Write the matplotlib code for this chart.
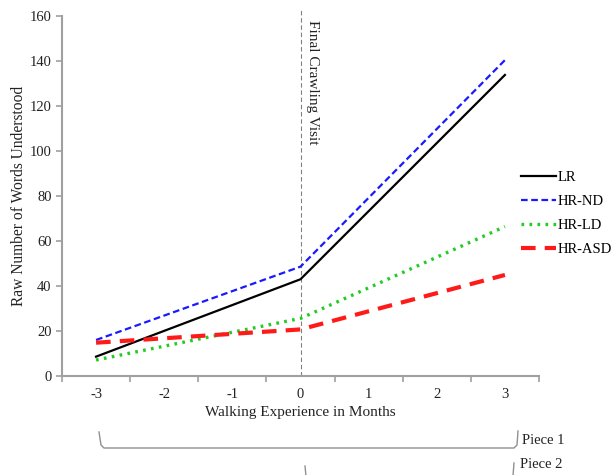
import matplotlib
matplotlib.use("Agg")
import matplotlib.pyplot as plt
from matplotlib.lines import Line2D

months = [-3, 0, 3]
x_ticks = [-3, -2, -1, 0, 1, 2, 3]
series_names = ["LR", "HR-ND", "HR-LD", "HR-ASD"]
lr = [8.6, 43.0, 133.8]
hr_nd = [16.0, 48.6, 140.4]
hr_ld = [7.1, 25.6, 66.4]
hr_asd = [14.8, 20.7, 44.9]

plt.rcParams['font.family'] = ['Liberation Serif', 'DejaVu Serif']
W, H = 611, 475
fig = plt.figure(figsize=(W/100, H/100), dpi=100)
ax = fig.add_axes([62/W, 1-376/H, (539-62)/W, (376-16)/H])

ax.plot(months, lr, color='black', lw=1.6, label=series_names[0])
ax.plot(months, hr_nd, color='#1a1aff', lw=1.6, ls=(0, (3, 1.6)), label=series_names[1])
ax.plot(months, hr_ld, color='#22cc22', lw=2.4, ls=(0, (0.8, 1.6)), label=series_names[2])
ax.plot(months, hr_asd, color='#ff1a1a', lw=3.0, ls=(0, (3.5, 2.2)), label=series_names[3])

ax.set_xlim(-3.5, 3.5)
ax.set_ylim(0, 160)
ax.set_yticks(range(0, 161, 20))
ax.set_xticks(x_ticks)
ax.set_xticklabels([str(v) for v in x_ticks])
ax.set_xticks([v + 0.5 for v in range(-4, 4)], minor=True)
ax.tick_params(axis='x', which='major', length=0, pad=9, labelsize=10.5, colors='#222222')
ax.tick_params(axis='x', which='minor', length=4, width=1.2, color='#a0a0a0')
ax.tick_params(axis='y', length=4, width=1.2, color='#a0a0a0', labelsize=10.5, labelcolor='#222222')
for s in ['top', 'right']:
    ax.spines[s].set_visible(False)
for s in ['left', 'bottom']:
    ax.spines[s].set_color('#a0a0a0')
    ax.spines[s].set_linewidth(1.5)

ax.set_xlabel('Walking Experience in Months', fontsize=11, labelpad=3, color='#222222')
ax.set_ylabel('Raw Number of Words Understood', fontsize=11.2, labelpad=2, color='#222222')

ax.plot([0, 0], [0, 163.5], color='#808080', lw=0.8, ls=(0, (4, 2.5)), clip_on=False, zorder=0)
ax.text(0.08, 158, 'Final Crawling Visit', rotation=-90, ha='left', va='top', fontsize=11, color='#222222')

leg = ax.legend(loc='upper left', bbox_to_anchor=(515/W, 1-165/H), bbox_transform=fig.transFigure,
                frameon=False, fontsize=10.5, handlelength=2.4, handletextpad=0.1,
                labelspacing=0.75, borderaxespad=0)

def fx(p):
    return p / W
def fy(p):
    return 1 - p / H

gray = '#909090'
fig.add_artist(Line2D([fx(99), fx(101), fx(104), fx(514), fx(517), fx(518)],
                      [fy(432), fy(445), fy(448), fy(448), fy(445), fy(431)],
                      color=gray, lw=1.0))
fig.text(fx(522), fy(441), 'Piece 1', fontsize=10.5, va='center', ha='left', color='#222222')
fig.add_artist(Line2D([fx(305), fx(306)], [fy(466), fy(476)], color=gray, lw=1.0))
fig.add_artist(Line2D([fx(514), fx(513)], [fy(463), fy(476)], color=gray, lw=1.0))
fig.text(fx(520), fy(465), 'Piece 2', fontsize=10.5, va='center', ha='left', color='#222222')

fig.savefig('out.png', dpi=100)
